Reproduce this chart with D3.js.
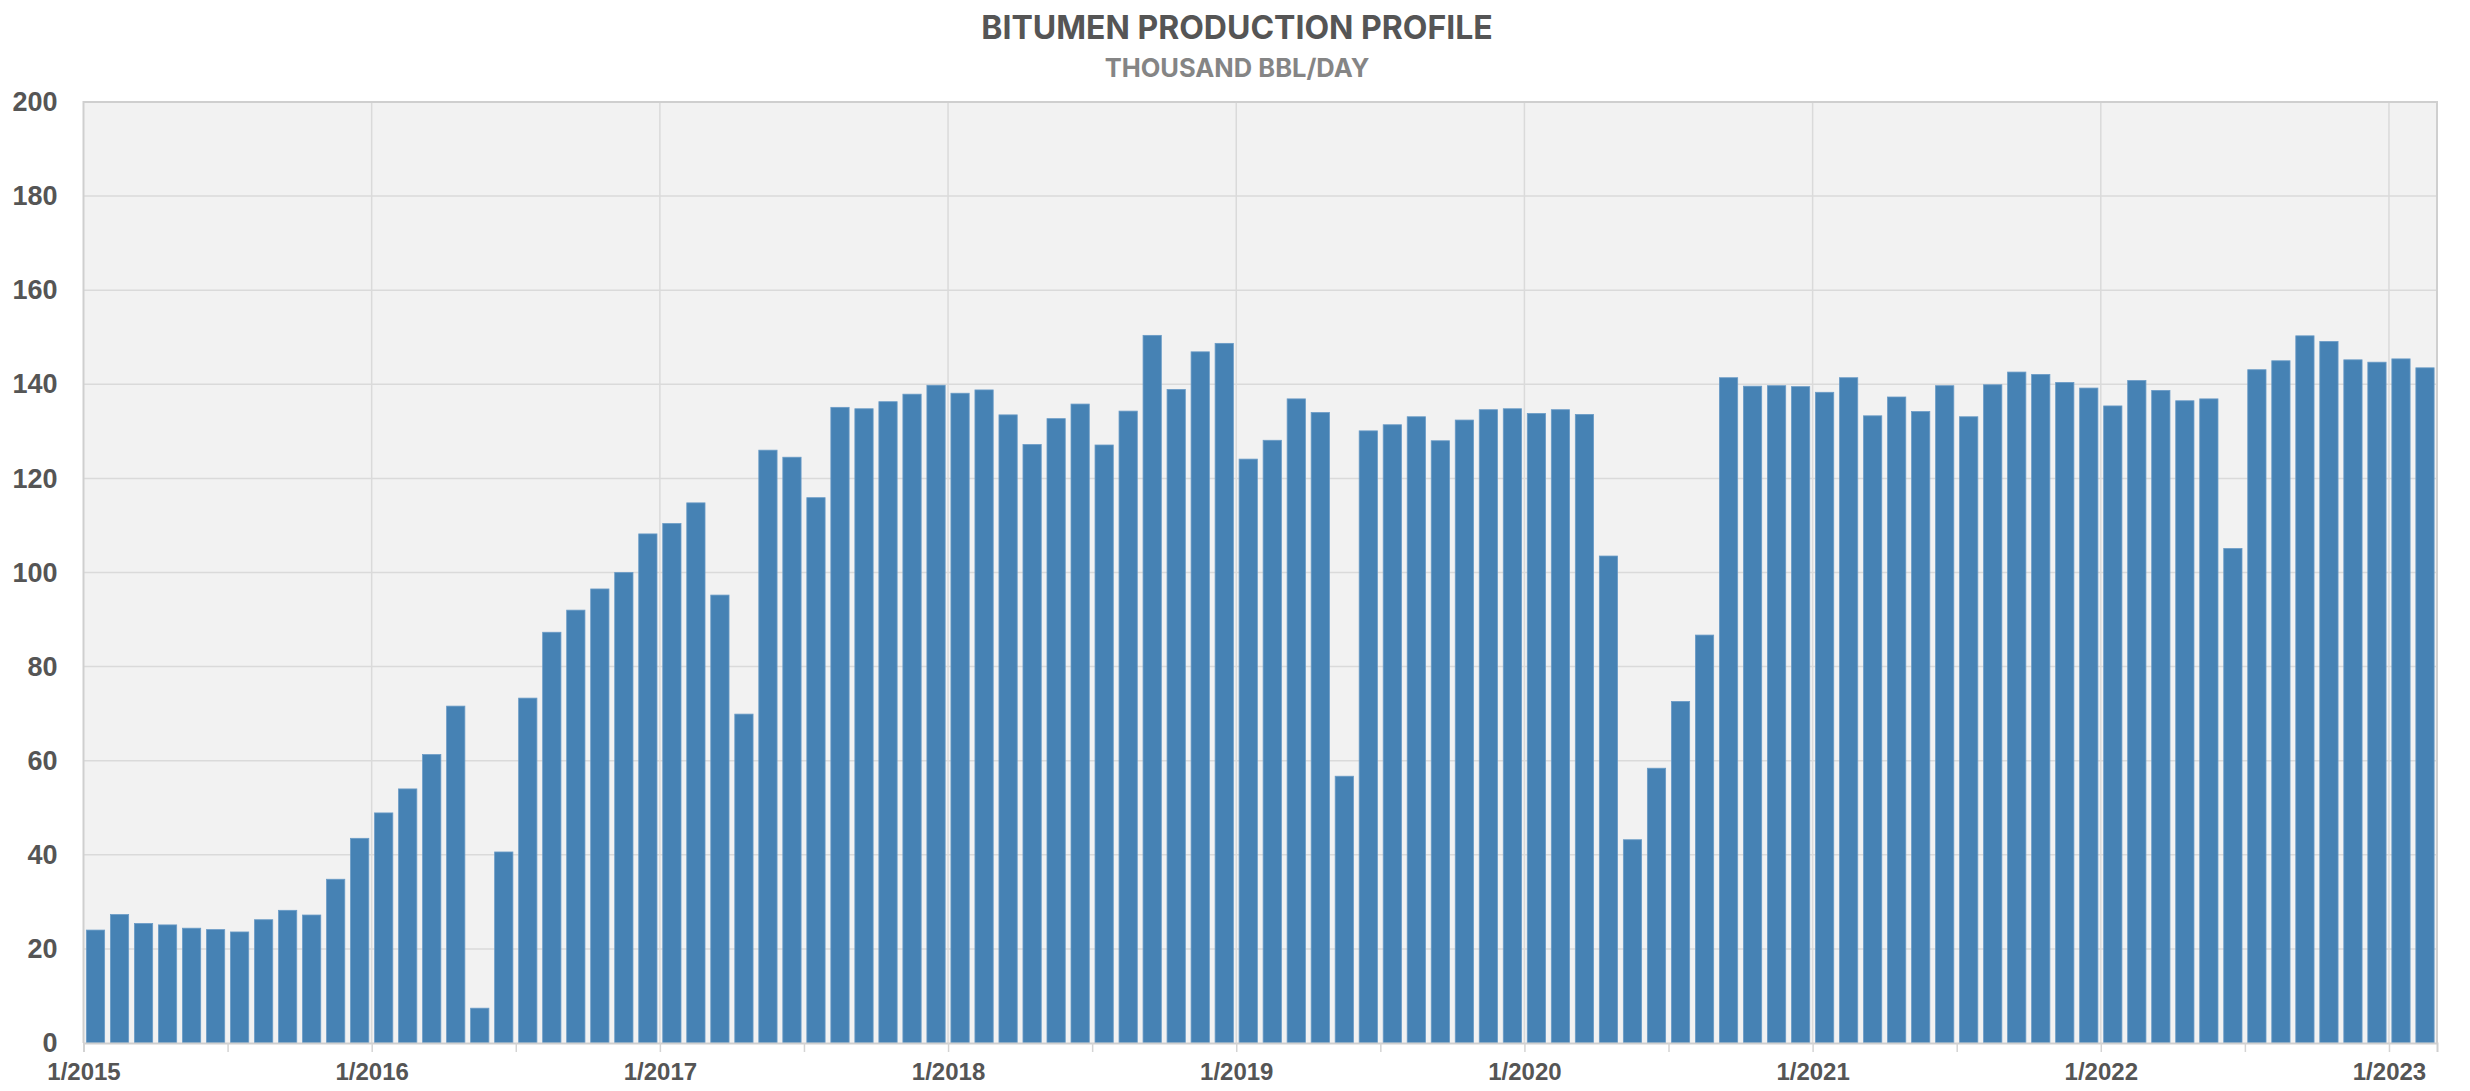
<!DOCTYPE html>
<html>
<head>
<meta charset="utf-8">
<script src="https://cdn.jsdelivr.net/npm/d3@7"></script>
<style>
  html, body { margin: 0; padding: 0; background: #ffffff; }
  svg { display: block; font-family: Inter, "Open Sans", sans-serif; }
</style>
</head>
<body>
<svg id="chart" width="2470" height="1091"></svg>
<script>
// ---- data (thousand bbl/day, monthly) ----
const title = "BITUMEN PRODUCTION PROFILE";
const subtitle = "THOUSAND BBL/DAY";
const years = [2015, 2016, 2017, 2018, 2019, 2020, 2021, 2022, 2023];
const values2015 = [24.0, 27.3, 25.4, 25.1, 24.4, 24.1, 23.6, 26.2, 28.2, 27.2, 34.8, 43.5];
const values2016 = [48.9, 54.0, 61.3, 71.6, 7.4, 40.6, 73.3, 87.3, 92.0, 96.5, 100.0, 108.2];
const values2017 = [110.4, 114.8, 95.2, 69.9, 126.0, 124.5, 115.9, 135.1, 134.8, 136.3, 137.9, 139.8];
const values2018 = [138.1, 138.8, 133.5, 127.2, 132.7, 135.8, 127.1, 134.3, 150.4, 138.9, 146.9, 148.7];
const values2019 = [124.1, 128.1, 136.9, 134.0, 56.7, 130.1, 131.4, 133.1, 128.0, 132.4, 134.6, 134.8];
const values2020 = [133.8, 134.6, 133.6, 103.5, 43.2, 58.4, 72.6, 86.7, 141.4, 139.6, 139.7, 139.5];
const values2021 = [138.3, 141.4, 133.3, 137.3, 134.2, 139.7, 133.1, 139.9, 142.6, 142.1, 140.4, 139.2];
const values2022 = [135.4, 140.8, 138.7, 136.5, 136.9, 105.1, 143.1, 145.0, 150.3, 149.1, 145.2, 144.7];
const values2023 = [145.4, 143.5];
const yTicks = [0, 20, 40, 60, 80, 100, 120, 140, 160, 180, 200];
const xTickLabels = ["1/2015", "1/2016", "1/2017", "1/2018", "1/2019", "1/2020", "1/2021", "1/2022", "1/2023"];

const production = [].concat(values2015, values2016, values2017, values2018,
  values2019, values2020, values2021, values2022, values2023);
const months = production.map((v, i) => (i % 12 + 1) + "/" + (years[0] + Math.floor(i / 12)));

// ---- layout ----
const margin = { left: 83.5, right: 2470 - 2437, top: 102, bottom: 1091 - 1043 };
const W = 2470, H = 1091;
const svg = d3.select("#chart");

const x = d3.scaleBand()
  .domain(months)
  .range([margin.left, W - margin.right])
  .paddingInner(0.24)
  .paddingOuter(0.12);
// month-index scale for ticks / gridlines (tick sits at band start)
const xm = d3.scaleLinear().domain([0, months.length]).range([margin.left, W - margin.right]);
const y = d3.scaleLinear().domain([0, 200]).range([H - margin.bottom, margin.top]);

// plot background
svg.append("rect")
  .attr("x", margin.left).attr("y", margin.top)
  .attr("width", W - margin.right - margin.left)
  .attr("height", H - margin.bottom - margin.top)
  .attr("fill", "#f2f2f2");

// horizontal gridlines
svg.append("g")
  .selectAll("line").data(yTicks.filter(d => d > 0)).join("line")
  .attr("x1", margin.left).attr("x2", W - margin.right)
  .attr("y1", d => y(d)).attr("y2", d => y(d))
  .attr("stroke", "#dadada").attr("stroke-width", 1.5);

// vertical yearly gridlines
const yearIdx = xTickLabels.map((d, i) => i * 12);
svg.append("g")
  .selectAll("line").data(yearIdx.filter(d => d > 0)).join("line")
  .attr("x1", d => xm(d)).attr("x2", d => xm(d))
  .attr("y1", margin.top).attr("y2", H - margin.bottom)
  .attr("stroke", "#dadada").attr("stroke-width", 1.5);

// frame
svg.append("path")
  .attr("d", `M${margin.left},${H - margin.bottom}V${margin.top}H${W - margin.right}V${H - margin.bottom}`)
  .attr("fill", "none").attr("stroke", "#cfcfcf").attr("stroke-width", 2);

// bars
svg.append("g")
  .selectAll("rect").data(production).join("rect")
  .attr("x", (d, i) => x(months[i]))
  .attr("width", x.bandwidth())
  .attr("y", d => y(d))
  .attr("height", d => y(0) - y(d))
  .attr("fill", "#4682b4")
  .attr("stroke", "#6a9bc6")
  .attr("stroke-width", 0.8);

// x axis
const halfIdx = d3.range(0, months.length, 6);
const xAxis = d3.axisBottom(xm)
  .tickValues(halfIdx)
  .tickSize(9)
  .tickFormat(d => (d % 12 === 0 ? xTickLabels[d / 12] : ""));
const gx = svg.append("g")
  .attr("transform", `translate(0,${H - margin.bottom})`)
  .call(xAxis);
gx.select(".domain").attr("stroke", "#cfcfcf").attr("stroke-width", 2);
gx.selectAll(".tick line").attr("stroke", "#d4d4d4").attr("stroke-width", 1.5);
gx.selectAll(".tick text")
  .attr("fill", "#555555")
  .attr("font-size", 24)
  .attr("font-weight", 600)
  .attr("dy", "1.05em");

// y axis
const yAxis = d3.axisLeft(y).tickValues(yTicks).tickSize(0).tickPadding(26);
const gy = svg.append("g")
  .attr("transform", `translate(${margin.left},0)`)
  .call(yAxis);
gy.select(".domain").remove();
gy.selectAll(".tick text")
  .attr("fill", "#555555")
  .attr("font-size", 27)
  .attr("font-weight", 600);

// titles
svg.append("text")
  .attr("x", 1237).attr("y", 39)
  .attr("text-anchor", "middle")
  .attr("fill", "#555555")
  .attr("font-size", 32)
  .attr("font-weight", 700)
  .text(title);
svg.append("text")
  .attr("x", 1237).attr("y", 77)
  .attr("text-anchor", "middle")
  .attr("fill", "#858585")
  .attr("font-size", 25.5)
  .attr("font-weight", 700)
  .text(subtitle);
</script>
</body>
</html>
